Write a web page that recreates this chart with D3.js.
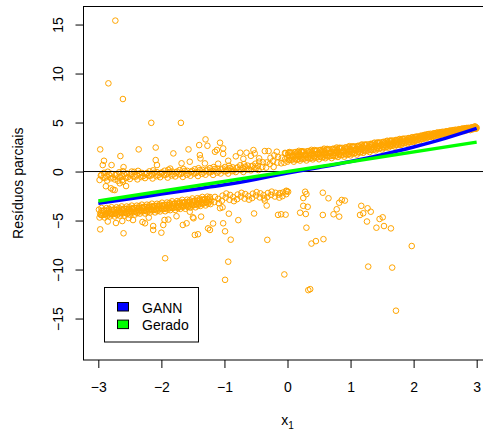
<!DOCTYPE html>
<html>
<head>
<meta charset="utf-8">
<script src="https://cdn.jsdelivr.net/npm/d3@7"></script>
<style>
  body { margin: 0; background: #fff; }
  svg { display: block; }
  text { font-family: "Liberation Sans", Arial, sans-serif; fill: #000; }
</style>
</head>
<body>
<svg id="chart" width="483" height="432"></svg>
<script>
// Axis ticks and legend
const xTicks = [-3, -2, -1, 0, 1, 2, 3];
const yTicks = [-15, -10, -5, 0, 5, 10, 15];
const legendLabels = ["GANN", "Gerado"];
const legendColors = ["#0000FF", "#00FF00"];

// Fitted partial effect of x1 (GANN) and the generating function
const gannX = [-3, -2.5, -2, -1.5, -1, -0.5, 0, 0.5, 1, 1.5, 2, 2.5, 3];
const gannY = [-3.25, -2.78, -2.3, -1.83, -1.35, -0.78, -0.15, 0.42, 1.03, 1.73, 2.5, 3.38, 4.4];
const geradoX = [-3, 3];
const geradoY = [-3, 3];

// Partial residuals [x1, residual]: upper cloud, x1 >= 0
const residUpperRight = [
  [0.00,1.01],[0.02,1.34],[0.01,1.72],[0.03,1.99],[0.05,1.20],[0.07,1.52],[0.04,1.91],
  [0.10,1.01],[0.12,1.33],[0.09,1.66],[0.13,1.98],[0.15,1.20],[0.17,1.52],[0.14,1.84],[0.18,2.11],
  [0.20,1.12],[0.22,1.44],[0.19,1.81],[0.23,2.08],[0.25,1.31],[0.27,1.63],[0.24,1.99],
  [0.30,1.13],[0.32,1.45],[0.29,1.76],[0.33,2.08],[0.35,1.32],[0.37,1.63],[0.34,1.95],[0.38,2.21],
  [0.40,1.24],[0.42,1.56],[0.39,1.93],[0.43,2.19],[0.45,1.43],[0.47,1.75],[0.44,2.11],
  [0.50,1.25],[0.52,1.57],[0.49,1.88],[0.53,2.20],[0.55,1.44],[0.57,1.75],[0.54,2.07],[0.58,2.33],
  [0.60,1.36],[0.62,1.68],[0.59,2.05],[0.63,2.31],[0.65,1.55],[0.67,1.87],[0.64,2.23],
  [0.70,1.37],[0.72,1.69],[0.69,2.00],[0.73,2.32],[0.75,1.56],[0.77,1.87],[0.74,2.19],[0.78,2.45],
  [0.80,1.49],[0.82,1.80],[0.79,2.17],[0.83,2.43],[0.85,1.69],[0.87,2.00],[0.84,2.36],
  [0.90,1.52],[0.92,1.83],[0.89,2.14],[0.93,2.45],[0.95,1.71],[0.97,2.02],[0.94,2.33],[0.98,2.59],
  [1.00,1.65],[1.02,1.96],[0.99,2.31],[1.03,2.57],[1.05,1.86],[1.07,2.17],[1.04,2.52],
  [1.10,1.73],[1.12,2.02],[1.09,2.32],[1.13,2.61],[1.15,1.94],[1.17,2.23],[1.14,2.52],[1.18,2.76],
  [1.20,1.91],[1.22,2.19],[1.19,2.52],[1.23,2.75],[1.25,2.11],[1.27,2.39],[1.24,2.71],
  [1.30,1.99],[1.32,2.26],[1.29,2.54],[1.33,2.81],[1.35,2.19],[1.37,2.46],[1.34,2.73],[1.38,2.95],
  [1.40,2.16],[1.42,2.43],[1.39,2.74],[1.43,2.96],[1.45,2.35],[1.47,2.62],[1.44,2.92],
  [1.50,2.25],[1.52,2.51],[1.49,2.76],[1.53,3.02],[1.55,2.44],[1.57,2.69],[1.54,2.93],[1.58,3.14],
  [1.60,2.44],[1.62,2.68],[1.59,2.95],[1.63,3.15],[1.65,2.62],[1.67,2.85],[1.64,3.12],
  [1.70,2.55],[1.72,2.77],[1.69,2.99],[1.73,3.21],[1.75,2.73],[1.77,2.94],[1.74,3.15],[1.78,3.32],
  [1.80,2.72],[1.82,2.93],[1.79,3.17],[1.83,3.34],[1.85,2.89],[1.87,3.09],[1.84,3.31],
  [1.90,2.84],[1.92,3.03],[1.89,3.21],[1.93,3.40],[1.95,3.00],[1.97,3.18],[1.94,3.35],[1.98,3.50],
  [2.00,3.01],[2.02,3.18],[1.99,3.38],[2.03,3.52],[2.05,3.18],[2.07,3.35],[2.04,3.54],
  [2.10,3.17],[2.12,3.32],[2.09,3.48],[2.13,3.63],[2.15,3.33],[2.17,3.48],[2.14,3.63],[2.18,3.75],
  [2.20,3.38],[2.22,3.52],[2.19,3.68],[2.23,3.79],[2.25,3.54],[2.27,3.67],[2.24,3.82],
  [2.30,3.52],[2.32,3.64],[2.29,3.77],[2.33,3.89],[2.35,3.65],[2.37,3.77],[2.34,3.88],[2.38,3.98],
  [2.40,3.68],[2.42,3.79],[2.39,3.91],[2.43,4.00],[2.45,3.80],[2.47,3.90],[2.44,4.02],
  [2.50,3.80],[2.52,3.90],[2.49,3.99],[2.53,4.09],[2.55,3.90],[2.57,4.00],[2.54,4.09],[2.58,4.17],
  [2.60,3.92],[2.62,4.02],[2.59,4.13],[2.63,4.21],[2.65,4.02],[2.67,4.12],[2.64,4.23],
  [2.70,4.00],[2.72,4.10],[2.69,4.20],[2.73,4.30],[2.75,4.10],[2.77,4.20],[2.74,4.30],[2.78,4.38],
  [2.80,4.13],[2.82,4.22],[2.79,4.33],[2.83,4.41],[2.85,4.23],[2.87,4.33],[2.84,4.44],
  [2.90,4.23],[2.92,4.32],[2.89,4.41],[2.93,4.49],[2.95,4.33],[2.97,4.42],[2.94,4.50],[2.98,4.57],
  [2.99,4.36],[3.00,4.47],[2.97,4.60],
  [0.025,1.18],[0.035,1.57],[0.015,1.93],[0.075,1.21],[0.085,1.59],[0.065,1.95],
  [0.125,1.24],[0.135,1.62],[0.115,1.97],[0.175,1.27],[0.185,1.64],[0.165,1.99],
  [0.225,1.30],[0.235,1.67],[0.215,2.01],[0.275,1.33],[0.285,1.69],[0.265,2.04],
  [0.325,1.36],[0.335,1.72],[0.315,2.07],[0.375,1.39],[0.385,1.75],[0.365,2.10],
  [0.425,1.42],[0.435,1.78],[0.415,2.13],[0.475,1.45],[0.485,1.81],[0.465,2.16],
  [0.525,1.48],[0.535,1.84],[0.515,2.19],[0.575,1.51],[0.585,1.87],[0.565,2.22],
  [0.625,1.54],[0.635,1.90],[0.615,2.25],[0.675,1.57],[0.685,1.93],[0.665,2.28],
  [0.725,1.60],[0.735,1.96],[0.715,2.31],[0.775,1.63],[0.785,1.99],[0.765,2.34],
  [0.825,1.67],[0.835,2.03],[0.815,2.38],[0.875,1.71],[0.885,2.07],[0.865,2.41],
  [0.925,1.75],[0.935,2.11],[0.915,2.45],[0.975,1.79],[0.985,2.14],[0.965,2.48],
  [1.025,1.83],[1.035,2.19],[1.015,2.52],[1.075,1.89],[1.085,2.24],[1.065,2.57],
  [1.125,1.96],[1.135,2.30],[1.115,2.62],[1.175,2.02],[1.185,2.35],[1.165,2.67],
  [1.225,2.08],[1.235,2.40],[1.215,2.71],[1.275,2.14],[1.285,2.46],[1.265,2.77],
  [1.325,2.20],[1.335,2.52],[1.315,2.82],[1.375,2.26],[1.385,2.58],[1.365,2.87],
  [1.425,2.33],[1.435,2.63],[1.415,2.92],[1.475,2.39],[1.485,2.69],[1.465,2.97],
  [1.525,2.46],[1.535,2.75],[1.515,3.02],[1.575,2.52],[1.585,2.80],[1.565,3.07],
  [1.625,2.59],[1.635,2.86],[1.615,3.12],[1.675,2.66],[1.685,2.92],[1.665,3.17],
  [1.725,2.73],[1.735,2.98],[1.715,3.21],[1.775,2.79],[1.785,3.04],[1.765,3.26],
  [1.825,2.86],[1.835,3.09],[1.815,3.31],[1.875,2.93],[1.885,3.15],[1.865,3.36],
  [1.925,2.99],[1.935,3.21],[1.915,3.41],[1.975,3.06],[1.985,3.26],[1.965,3.46],
  [2.025,3.14],[2.035,3.33],[2.015,3.52],[2.075,3.23],[2.085,3.41],[2.065,3.59],
  [2.125,3.32],[2.135,3.49],[2.115,3.66],[2.175,3.40],[2.185,3.57],[2.165,3.72],
  [2.225,3.49],[2.235,3.64],[2.215,3.79],[2.275,3.57],[2.285,3.71],[2.265,3.85],
  [2.325,3.63],[2.335,3.77],[2.315,3.90],[2.375,3.70],[2.385,3.83],[2.365,3.95],
  [2.425,3.77],[2.435,3.89],[2.415,4.00],[2.475,3.83],[2.485,3.95],[2.465,4.06],
  [2.525,3.89],[2.535,4.00],[2.515,4.11],[2.575,3.94],[2.585,4.05],[2.565,4.16],
  [2.625,3.99],[2.635,4.10],[2.615,4.21],[2.675,4.04],[2.685,4.16],[2.665,4.27],
  [2.725,4.09],[2.735,4.21],[2.715,4.32],[2.775,4.15],[2.785,4.26],[2.765,4.37],
  [2.825,4.20],[2.835,4.31],[2.815,4.42],[2.875,4.26],[2.885,4.37],[2.865,4.46],
  [2.925,4.32],[2.935,4.42],[2.915,4.51],[2.975,4.38],[2.985,4.47],[2.965,4.56]
];

// Upper cloud, x1 < 0
const residUpperLeft = [
  [-2.98,-0.86],[-2.96,-0.41],[-2.92,-0.63],[-2.91,-0.13],[-2.86,-0.92],[-2.87,-0.47],[-2.85,-0.02],
  [-2.80,-0.69],[-2.79,-0.24],[-2.74,-0.81],[-2.73,-0.36],[-2.68,-0.58],[-2.67,-0.08],
  [-2.62,-0.87],[-2.63,-0.42],[-2.61,0.03],[-2.56,-0.64],[-2.55,-0.19],[-2.50,-0.76],[-2.49,-0.31],
  [-2.44,-0.52],[-2.43,-0.03],[-2.38,-0.80],[-2.39,-0.37],[-2.37,0.07],[-2.32,-0.56],[-2.31,-0.14],
  [-2.26,-0.67],[-2.25,-0.24],[-2.20,-0.44],[-2.19,0.02],[-2.14,-0.71],[-2.15,-0.30],[-2.13,0.12],
  [-2.08,-0.48],[-2.07,-0.07],[-2.02,-0.58],[-2.01,-0.17],[-1.96,-0.36],[-1.95,0.08],
  [-1.90,-0.62],[-1.91,-0.22],[-1.89,0.18],[-1.84,-0.40],[-1.83,0.00],[-1.78,-0.50],[-1.77,-0.10],
  [-1.72,-0.29],[-1.71,0.15],[-1.66,-0.55],[-1.67,-0.15],[-1.65,0.25],[-1.60,-0.33],[-1.59,0.07],
  [-1.54,-0.43],[-1.53,-0.03],[-1.48,-0.21],[-1.47,0.23],[-1.42,-0.46],[-1.43,-0.06],[-1.41,0.34],
  [-1.36,-0.23],[-1.35,0.17],[-1.30,-0.32],[-1.29,0.08],[-1.24,-0.09],[-1.23,0.35],
  [-1.18,-0.34],[-1.19,0.06],[-1.17,0.46],[-1.12,-0.11],[-1.11,0.29],[-1.06,-0.20],[-1.05,0.20],
  [-1.00,0.03],[-0.99,0.47],[-0.94,-0.21],[-0.95,0.19],[-0.93,0.59],[-0.88,0.03],[-0.87,0.43],
  [-0.82,-0.05],[-0.81,0.35],[-0.76,0.20],[-0.75,0.64],[-0.70,-0.04],[-0.71,0.36],[-0.69,0.76],
  [-0.64,0.20],[-0.63,0.60],[-0.58,0.12],[-0.57,0.52],[-0.52,0.36],[-0.51,0.80],
  [-0.46,0.15],[-0.47,0.58],[-0.45,1.01],[-0.40,0.46],[-0.39,0.94],[-0.34,0.40],[-0.33,0.93],
  [-0.28,0.77],[-0.27,1.40],[-0.22,0.47],[-0.23,1.06],[-0.21,1.65],[-0.16,0.91],[-0.15,1.49],
  [-0.10,0.84],[-0.09,1.41],[-0.04,1.25],[-0.03,1.87],[-0.05,0.90],
  [-2.95,-0.35],[-2.89,-0.63],[-2.83,-0.33],[-2.77,-0.61],[-2.71,-0.31],[-2.65,-0.58],
  [-2.59,-0.28],[-2.53,-0.56],[-2.47,-0.25],[-2.41,-0.52],[-2.35,-0.21],[-2.29,-0.47],
  [-2.23,-0.16],[-2.17,-0.42],[-2.11,-0.12],[-2.05,-0.38],[-1.99,-0.09],[-1.93,-0.33],
  [-1.87,-0.05],[-1.81,-0.29],[-1.75,0.00],[-1.69,-0.25],[-1.63,0.04],[-1.57,-0.21],
  [-1.51,0.07],[-1.45,-0.15],[-1.39,0.14],[-1.33,-0.10],[-1.27,0.20],[-1.21,-0.04],
  [-1.15,0.26],[-1.09,0.01],[-1.03,0.31],[-0.97,0.04],[-0.91,0.36],[-0.85,0.10],
  [-0.79,0.43],[-0.73,0.18],[-0.67,0.50],[-0.61,0.26],[-0.55,0.60],[-0.49,0.36],
  // scattered points above and below the cloud
  [-2.97,2.26],[-2.91,1.10],[-2.93,0.66],[-2.79,0.66],[-2.65,1.58],[-2.60,0.45],[-2.47,0.00],
  [-2.36,2.26],[-2.09,2.45],[-2.09,1.17],[-2.07,0.66],[-1.86,0.30],[-1.81,1.85],[-1.68,0.84],
  [-1.57,2.26],[-1.55,1.00],[-1.40,2.70],[-1.39,1.68],[-1.38,1.34],[-1.31,0.83],[-1.30,3.28],
  [-1.27,2.63],[-1.15,2.02],[-1.12,2.20],[-1.07,2.94],[-1.02,2.36],[-1.02,1.80],[-1.10,0.80],
  [-0.94,1.10],[-0.82,1.55],[-0.75,1.92],[-0.70,1.30],[-0.65,1.92],[-0.58,1.60],[-0.54,2.19],
  [-0.52,1.85],[-0.45,1.35],[-0.36,2.09],[-0.30,2.09],[-0.17,2.02],[-0.04,1.90],
  [-2.88,-1.50],[-2.80,-1.71],[-2.77,-1.85],[-2.74,-1.89],[-2.69,-0.94],[-2.66,-1.20],
  [-2.61,-1.04],[-2.56,-1.48]
];

// Lower cloud, x1 < 0
const residLowerLeft = [
  [-2.98,-4.69],[-2.97,-4.29],[-2.99,-3.89],[-2.94,-4.46],[-2.93,-4.07],[-2.95,-3.72],
  [-2.90,-4.69],[-2.89,-4.34],[-2.91,-3.95],[-2.86,-4.52],[-2.85,-4.13],[-2.87,-3.73],
  [-2.82,-4.59],[-2.81,-4.20],[-2.83,-3.81],[-2.78,-4.38],[-2.77,-3.98],[-2.79,-3.64],
  [-2.74,-4.59],[-2.73,-4.25],[-2.75,-3.86],[-2.70,-4.42],[-2.69,-4.04],[-2.71,-3.65],
  [-2.66,-4.50],[-2.65,-4.11],[-2.67,-3.73],[-2.62,-4.28],[-2.61,-3.90],[-2.63,-3.56],
  [-2.58,-4.50],[-2.57,-4.16],[-2.59,-3.78],[-2.54,-4.33],[-2.53,-3.95],[-2.55,-3.57],
  [-2.50,-4.40],[-2.49,-4.02],[-2.51,-3.64],[-2.46,-4.19],[-2.45,-3.81],[-2.47,-3.48],
  [-2.42,-4.39],[-2.41,-4.06],[-2.43,-3.69],[-2.38,-4.23],[-2.37,-3.85],[-2.39,-3.48],
  [-2.34,-4.29],[-2.33,-3.92],[-2.35,-3.54],[-2.30,-4.08],[-2.29,-3.71],[-2.31,-3.38],
  [-2.26,-4.28],[-2.25,-3.96],[-2.27,-3.58],[-2.22,-4.11],[-2.21,-3.74],[-2.23,-3.38],
  [-2.18,-4.18],[-2.17,-3.82],[-2.19,-3.45],[-2.14,-3.97],[-2.13,-3.60],[-2.15,-3.28],
  [-2.10,-4.17],[-2.09,-3.85],[-2.11,-3.49],[-2.06,-4.01],[-2.05,-3.65],[-2.07,-3.29],
  [-2.02,-4.07],[-2.01,-3.71],[-2.03,-3.35],[-1.98,-3.86],[-1.97,-3.50],[-1.99,-3.18],
  [-1.94,-4.05],[-1.93,-3.74],[-1.95,-3.38],[-1.90,-3.88],[-1.89,-3.52],[-1.91,-3.16],
  [-1.86,-3.94],[-1.85,-3.58],[-1.87,-3.21],[-1.82,-3.73],[-1.81,-3.36],[-1.83,-3.04],
  [-1.78,-3.92],[-1.77,-3.60],[-1.79,-3.23],[-1.74,-3.75],[-1.73,-3.38],[-1.75,-3.02],
  [-1.70,-3.81],[-1.69,-3.44],[-1.71,-3.07],[-1.66,-3.60],[-1.65,-3.22],[-1.67,-2.89],
  [-1.62,-3.80],[-1.61,-3.47],[-1.63,-3.10],[-1.58,-3.62],[-1.57,-3.24],[-1.59,-2.87],
  [-1.54,-3.68],[-1.53,-3.31],[-1.55,-2.93],[-1.50,-3.46],[-1.49,-3.08],[-1.51,-2.75],
  [-1.46,-3.65],[-1.45,-3.32],[-1.47,-2.95],[-1.42,-3.46],[-1.41,-3.09],[-1.43,-2.72],
  [-1.38,-3.51],[-1.37,-3.14],[-1.39,-2.77],[-1.34,-3.28],[-1.33,-2.91],[-1.35,-2.59],
  [-1.30,-3.46],[-1.29,-3.14],[-1.31,-2.78],[-1.26,-3.28],[-1.25,-2.92],[-1.27,-2.56],
  [-1.22,-3.32],[-1.21,-2.96],[-1.23,-2.60],
  [-2.96,-4.43],[-2.95,-4.03],[-2.92,-4.40],[-2.91,-4.01],[-2.88,-4.38],[-2.87,-3.99],
  [-2.84,-4.36],[-2.83,-3.96],[-2.80,-4.34],[-2.79,-3.94],[-2.76,-4.31],[-2.75,-3.92],
  [-2.72,-4.29],[-2.71,-3.90],[-2.68,-4.27],[-2.67,-3.88],[-2.64,-4.24],[-2.63,-3.86],
  [-2.60,-4.22],[-2.59,-3.84],[-2.56,-4.20],[-2.55,-3.82],[-2.52,-4.18],[-2.51,-3.80],
  [-2.48,-4.15],[-2.47,-3.77],[-2.44,-4.12],[-2.43,-3.75],[-2.40,-4.10],[-2.39,-3.72],
  [-2.36,-4.07],[-2.35,-3.70],[-2.32,-4.04],[-2.31,-3.67],[-2.28,-4.02],[-2.27,-3.64],
  [-2.24,-3.99],[-2.23,-3.62],[-2.20,-3.96],[-2.19,-3.60],[-2.16,-3.94],[-2.15,-3.57],
  [-2.12,-3.91],[-2.11,-3.55],[-2.08,-3.88],[-2.07,-3.52],[-2.04,-3.86],[-2.03,-3.49],
  [-2.00,-3.83],[-1.99,-3.47],[-1.96,-3.80],[-1.95,-3.44],[-1.92,-3.76],[-1.91,-3.40],
  [-1.88,-3.73],[-1.87,-3.37],[-1.84,-3.70],[-1.83,-3.33],[-1.80,-3.66],[-1.79,-3.30],
  [-1.76,-3.63],[-1.75,-3.26],[-1.72,-3.60],[-1.71,-3.23],[-1.68,-3.56],[-1.67,-3.19],
  [-1.64,-3.53],[-1.63,-3.16],[-1.60,-3.50],[-1.59,-3.12],[-1.56,-3.46],[-1.55,-3.09],
  [-1.52,-3.43],[-1.51,-3.05],[-1.48,-3.39],[-1.47,-3.01],[-1.44,-3.35],[-1.43,-2.97],
  [-1.40,-3.30],[-1.39,-2.93],[-1.36,-3.26],[-1.35,-2.89],[-1.32,-3.21],[-1.31,-2.85],
  [-1.28,-3.16],[-1.27,-2.80],[-1.24,-3.12],[-1.23,-2.76],
  [-1.16,-3.11],[-1.15,-2.59],[-1.10,-2.79],[-1.09,-3.22],[-1.04,-2.98],[-1.03,-2.46],
  [-0.98,-2.66],[-0.97,-2.24],[-0.92,-2.88],[-0.91,-2.39],[-0.86,-2.61],[-0.85,-3.02],
  [-0.80,-2.82],[-0.79,-2.35],[-0.74,-2.56],[-0.73,-2.17],[-0.68,-2.76],[-0.67,-2.30],
  [-0.62,-2.50],[-0.61,-2.87],[-0.56,-2.70],[-0.55,-2.26],[-0.50,-2.45],[-0.49,-2.10],
  [-0.44,-2.64],[-0.43,-2.23],[-0.38,-2.41],[-0.37,-2.75],[-0.32,-2.60],[-0.31,-2.19],
  [-0.26,-2.38],[-0.25,-2.05],[-0.20,-2.55],[-0.19,-2.17],[-0.14,-2.35],[-0.13,-2.66],
  [-0.08,-2.51],[-0.07,-2.14],[-0.02,-2.31],[-0.01,-2.01],
  // scattered points below the cloud
  [-2.97,-5.90],[-2.85,-5.10],[-2.72,-5.25],[-2.62,-5.05],[-2.60,-6.30],[-2.52,-4.75],
  [-2.45,-4.95],[-2.30,-5.15],[-2.26,-5.28],[-2.20,-4.70],[-2.13,-5.56],[-2.13,-5.96],
  [-2.00,-6.24],[-1.97,-5.45],[-1.95,-4.94],[-1.89,-4.90],[-1.76,-4.56],[-1.66,-5.45],
  [-1.60,-5.28],[-1.55,-4.10],[-1.50,-4.67],[-1.49,-4.77],[-1.47,-6.47],[-1.42,-6.40],
  [-1.37,-4.60],[-1.26,-5.80],[-1.23,-5.96],[-1.18,-5.30],[-1.07,-3.74],[-1.03,-3.65],
  [-1.02,-5.28],[-0.99,-6.10],[-0.93,-4.30],[-0.90,-6.95],[-0.78,-4.96],[-0.53,-4.28],
  [-0.36,-2.96],[-0.33,-3.47],[-0.32,-6.97],[-0.15,-4.42],[-0.10,-4.36],[-0.03,-4.40],
  [-0.12,-2.20]
];

// Lower scatter, x1 >= 0
const residLowerRight = [
  [-0.02,-1.96],[0.01,-2.06],[0.25,-2.70],[0.28,-2.06],[0.30,-2.30],[0.56,-2.16],[0.65,-2.73],
  [0.86,-2.90],[0.82,-3.18],[0.91,-2.96],[0.25,-3.50],[0.32,-3.60],[0.20,-4.20],[0.29,-4.33],
  [0.56,-4.43],[0.73,-4.36],[0.82,-4.60],[0.78,-3.85],[0.30,-5.73],[1.17,-3.50],[1.27,-3.75],
  [1.32,-4.10],[1.20,-4.26],[1.15,-4.43],[1.26,-5.10],[1.46,-4.84],[1.51,-4.67],[1.41,-5.73],
  [1.53,-5.56],[1.64,-5.80]
];

// Isolated residuals far from the clouds
const residOutliers = [
  [-2.73,15.4],[-2.84,9.0],[-2.61,7.4],[-2.16,4.97],[-1.69,4.97],[-1.94,-8.85],[-0.94,-9.2],
  [-0.99,-11.05],[-0.05,-10.5],[0.33,-12.1],[0.36,-12.0],[1.28,-9.7],[1.66,-9.8],[1.72,-14.2],
  [1.97,-7.6],[0.38,-7.35],[0.45,-7.1],[0.57,-6.9]
];

const svg = d3.select("#chart");
const plot = { left: 83.5, right: 491.5, top: 6.5, bottom: 360 };

const x = d3.scaleLinear().domain([-3.235, 3.235]).range([plot.left, plot.right]);
const y = d3.scaleLinear().domain([-19.23, 16.84]).range([plot.bottom, plot.top]);

svg.append("defs").append("clipPath").attr("id", "plotClip")
  .append("rect")
  .attr("x", plot.left).attr("y", plot.top)
  .attr("width", plot.right - plot.left).attr("height", plot.bottom - plot.top);

const inner = svg.append("g").attr("clip-path", "url(#plotClip)");

// Residual points
const points = [].concat(residUpperLeft, residUpperRight, residLowerLeft, residLowerRight, residOutliers);
inner.append("g")
  .selectAll("circle")
  .data(points)
  .join("circle")
  .attr("cx", d => x(d[0]))
  .attr("cy", d => y(d[1]))
  .attr("r", 2.8)
  .attr("fill", "none")
  .attr("stroke", "#FFA500")
  .attr("stroke-width", 1);

// Reference line at zero
inner.append("line")
  .attr("x1", plot.left).attr("x2", plot.right)
  .attr("y1", y(0)).attr("y2", y(0))
  .attr("stroke", "#000").attr("stroke-width", 1);

// Curves
const line = d3.line().x(d => x(d[0])).y(d => y(d[1])).curve(d3.curveMonotoneX);
inner.append("path")
  .datum(d3.zip(gannX, gannY))
  .attr("d", line)
  .attr("fill", "none").attr("stroke", legendColors[0]).attr("stroke-width", 3.5);
inner.append("path")
  .datum(d3.zip(geradoX, geradoY))
  .attr("d", line)
  .attr("fill", "none").attr("stroke", legendColors[1]).attr("stroke-width", 3.5);

// Plot frame
svg.append("rect")
  .attr("x", plot.left).attr("y", plot.top)
  .attr("width", plot.right - plot.left).attr("height", plot.bottom - plot.top)
  .attr("fill", "none").attr("stroke", "#000").attr("stroke-width", 1);

// X axis
const xAxis = svg.append("g")
  .attr("transform", `translate(0,${plot.bottom})`)
  .call(d3.axisBottom(x).tickValues(xTicks).tickSize(8).tickPadding(14.5).tickFormat(d3.format("d")));
xAxis.select(".domain").remove();
xAxis.selectAll("line").attr("stroke", "#000");
xAxis.selectAll("text").attr("font-size", 14).attr("font-family", "Liberation Sans, Arial, sans-serif").attr("fill", "#000");

// Y axis, labels parallel to the axis
const yAxis = svg.append("g")
  .attr("transform", `translate(${plot.left},0)`)
  .call(d3.axisLeft(y).tickValues(yTicks).tickSize(8).tickFormat(d3.format("d")));
yAxis.select(".domain").remove();
yAxis.selectAll("line").attr("stroke", "#000");
yAxis.selectAll("text")
  .attr("font-size", 14)
  .attr("font-family", "Liberation Sans, Arial, sans-serif")
  .attr("fill", "#000")
  .attr("x", null).attr("dy", null)
  .attr("text-anchor", "middle")
  .attr("transform", "translate(-21,0) rotate(-90)");

// Axis titles
svg.append("text")
  .attr("transform", `translate(22.5,${(plot.top + plot.bottom) / 2}) rotate(-90)`)
  .attr("text-anchor", "middle")
  .attr("font-size", 14)
  .text("Resíduos parciais");

const xTitle = svg.append("text")
  .attr("x", (plot.left + plot.right) / 2)
  .attr("y", 425)
  .attr("text-anchor", "middle")
  .attr("font-size", 14);
xTitle.append("tspan").text("x");
xTitle.append("tspan").attr("font-size", 10).attr("dy", 4).text("1");

// Legend
const legend = svg.append("g");
legend.append("rect")
  .attr("x", 104.5).attr("y", 287.5).attr("width", 94).attr("height", 54.5)
  .attr("fill", "#fff").attr("stroke", "#000").attr("stroke-width", 1);
const legendItem = legend.selectAll("g.item")
  .data(legendLabels)
  .join("g")
  .attr("class", "item")
  .attr("transform", (d, i) => `translate(0,${i * 17.6})`);
legendItem.append("rect")
  .attr("x", 117.5).attr("y", 302.5).attr("width", 11).attr("height", 8.5)
  .attr("fill", (d, i) => legendColors[i]).attr("stroke", "#000").attr("stroke-width", 1);
legendItem.append("text")
  .attr("x", 142).attr("y", 312.5)
  .attr("font-size", 14)
  .text(d => d);
</script>
</body>
</html>
